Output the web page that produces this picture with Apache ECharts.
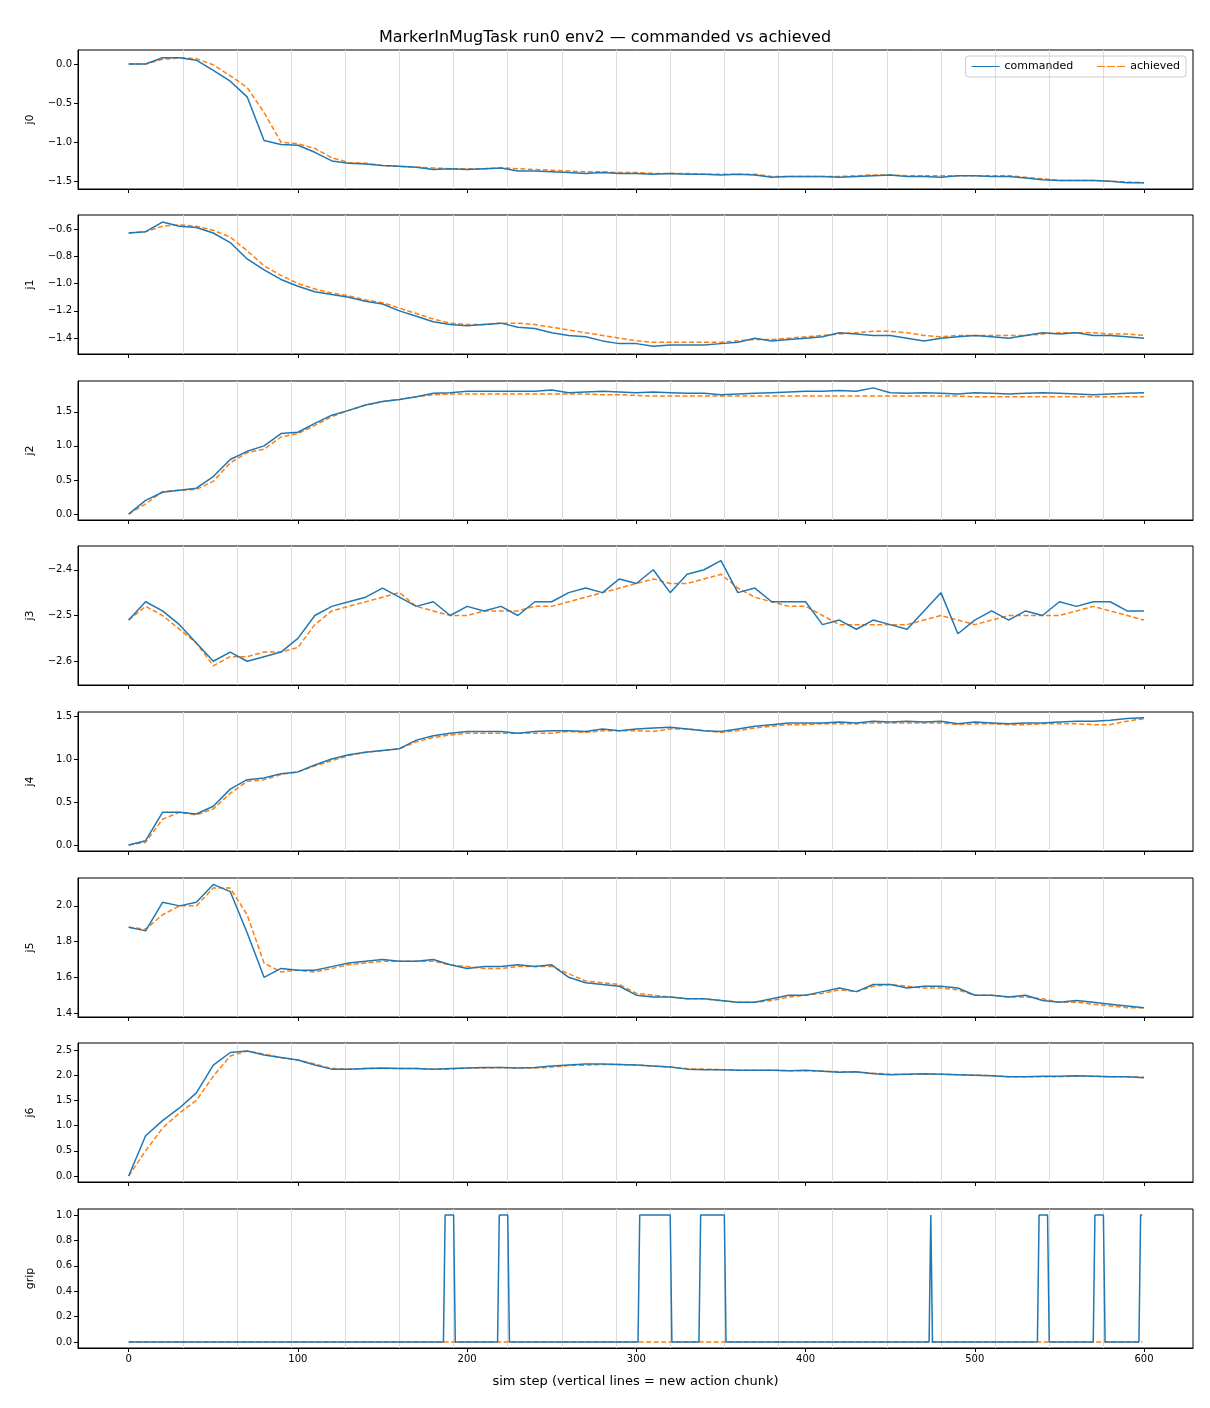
<!DOCTYPE html>
<html>
<head>
<meta charset="utf-8">
<script src="https://cdn.jsdelivr.net/npm/echarts@6/dist/echarts.min.js"></script>
<style>html,body{margin:0;padding:0;background:#fff}#main{width:1210px;height:1408px}</style>
</head>
<body>
<div id="main"></div>
<script>
var steps = [0,10,20,30,40,50,60,70,80,90,100,110,120,130,140,150,160,170,180,190,200,210,220,230,240,250,260,270,280,290,300,310,320,330,340,350,360,370,380,390,400,410,420,430,440,450,460,470,480,490,500,510,520,530,540,550,560,570,580,590,600];
var chunkStarts = [32,64,96,128,160,192,224,256,288,320,352,384,416,448,480,512,544,576];
var jointNames = ['j0','j1','j2','j3','j4','j5','j6'];

var j0Cmd = [0,0,0.08,0.08,0.05,-0.08,-0.22,-0.42,-0.98,-1.03,-1.04,-1.13,-1.24,-1.27,-1.28,-1.3,-1.31,-1.32,-1.35,-1.34,-1.35,-1.34,-1.33,-1.37,-1.37,-1.38,-1.39,-1.4,-1.39,-1.4,-1.4,-1.41,-1.4,-1.41,-1.41,-1.42,-1.41,-1.42,-1.45,-1.44,-1.44,-1.44,-1.45,-1.44,-1.43,-1.42,-1.44,-1.44,-1.45,-1.43,-1.43,-1.44,-1.44,-1.46,-1.48,-1.49,-1.49,-1.49,-1.5,-1.52,-1.52];
var j0Ach = [0,0,0.06,0.08,0.07,-0.01,-0.15,-0.3,-0.62,-1.0,-1.02,-1.08,-1.2,-1.26,-1.27,-1.3,-1.31,-1.32,-1.33,-1.34,-1.34,-1.34,-1.33,-1.34,-1.35,-1.36,-1.37,-1.38,-1.38,-1.39,-1.39,-1.4,-1.4,-1.4,-1.41,-1.41,-1.41,-1.41,-1.44,-1.44,-1.44,-1.44,-1.44,-1.43,-1.42,-1.42,-1.43,-1.43,-1.43,-1.43,-1.43,-1.43,-1.43,-1.45,-1.47,-1.49,-1.49,-1.49,-1.5,-1.51,-1.52];
var j1Cmd = [-0.63,-0.62,-0.55,-0.58,-0.59,-0.63,-0.7,-0.82,-0.9,-0.97,-1.02,-1.06,-1.08,-1.1,-1.13,-1.15,-1.2,-1.24,-1.28,-1.3,-1.31,-1.3,-1.29,-1.32,-1.33,-1.36,-1.38,-1.39,-1.42,-1.44,-1.44,-1.46,-1.45,-1.45,-1.45,-1.44,-1.43,-1.4,-1.42,-1.41,-1.4,-1.39,-1.36,-1.37,-1.38,-1.38,-1.4,-1.42,-1.4,-1.39,-1.38,-1.39,-1.4,-1.38,-1.36,-1.37,-1.36,-1.38,-1.38,-1.39,-1.4];
var j1Ach = [-0.63,-0.62,-0.58,-0.57,-0.58,-0.61,-0.66,-0.76,-0.87,-0.94,-1.0,-1.04,-1.07,-1.09,-1.12,-1.14,-1.18,-1.22,-1.26,-1.29,-1.3,-1.3,-1.29,-1.29,-1.3,-1.32,-1.34,-1.36,-1.38,-1.4,-1.42,-1.43,-1.43,-1.43,-1.43,-1.43,-1.42,-1.41,-1.41,-1.4,-1.39,-1.38,-1.37,-1.36,-1.35,-1.35,-1.36,-1.38,-1.39,-1.38,-1.38,-1.38,-1.38,-1.38,-1.37,-1.36,-1.36,-1.36,-1.37,-1.37,-1.38];
var j2Cmd = [0,0.2,0.32,0.35,0.38,0.55,0.8,0.92,1.0,1.18,1.2,1.33,1.45,1.52,1.6,1.65,1.68,1.72,1.77,1.78,1.8,1.8,1.8,1.8,1.8,1.82,1.78,1.79,1.8,1.79,1.78,1.79,1.78,1.77,1.77,1.75,1.76,1.77,1.78,1.79,1.8,1.8,1.81,1.8,1.85,1.78,1.77,1.78,1.77,1.76,1.78,1.77,1.76,1.77,1.78,1.77,1.76,1.75,1.76,1.77,1.78];
var j2Ach = [0,0.15,0.33,0.35,0.36,0.48,0.75,0.9,0.95,1.13,1.18,1.3,1.43,1.52,1.6,1.65,1.68,1.72,1.75,1.76,1.76,1.76,1.76,1.76,1.76,1.76,1.76,1.76,1.75,1.75,1.74,1.73,1.73,1.73,1.73,1.73,1.73,1.73,1.73,1.73,1.73,1.73,1.73,1.73,1.73,1.73,1.73,1.73,1.73,1.73,1.72,1.72,1.72,1.72,1.72,1.72,1.72,1.72,1.72,1.72,1.72];
var j3Cmd = [-2.51,-2.47,-2.49,-2.52,-2.56,-2.6,-2.58,-2.6,-2.59,-2.58,-2.55,-2.5,-2.48,-2.47,-2.46,-2.44,-2.46,-2.48,-2.47,-2.5,-2.48,-2.49,-2.48,-2.5,-2.47,-2.47,-2.45,-2.44,-2.45,-2.42,-2.43,-2.4,-2.45,-2.41,-2.4,-2.38,-2.45,-2.44,-2.47,-2.47,-2.47,-2.52,-2.51,-2.53,-2.51,-2.52,-2.53,-2.49,-2.45,-2.54,-2.51,-2.49,-2.51,-2.49,-2.5,-2.47,-2.48,-2.47,-2.47,-2.49,-2.49];
var j3Ach = [-2.51,-2.48,-2.5,-2.53,-2.56,-2.61,-2.59,-2.59,-2.58,-2.58,-2.57,-2.52,-2.49,-2.48,-2.47,-2.46,-2.45,-2.48,-2.49,-2.5,-2.5,-2.49,-2.49,-2.49,-2.48,-2.48,-2.47,-2.46,-2.45,-2.44,-2.43,-2.42,-2.43,-2.43,-2.42,-2.41,-2.44,-2.46,-2.47,-2.48,-2.48,-2.5,-2.52,-2.52,-2.52,-2.52,-2.52,-2.51,-2.5,-2.51,-2.52,-2.51,-2.5,-2.5,-2.5,-2.5,-2.49,-2.48,-2.49,-2.5,-2.51];
var j4Cmd = [0,0.05,0.38,0.38,0.36,0.45,0.65,0.76,0.78,0.83,0.85,0.93,1.0,1.05,1.08,1.1,1.12,1.22,1.27,1.3,1.32,1.32,1.32,1.3,1.32,1.33,1.33,1.32,1.35,1.33,1.35,1.36,1.37,1.35,1.33,1.32,1.35,1.38,1.4,1.42,1.42,1.42,1.43,1.42,1.44,1.43,1.44,1.43,1.44,1.41,1.43,1.42,1.41,1.42,1.42,1.43,1.44,1.44,1.45,1.47,1.48];
var j4Ach = [0,0.03,0.3,0.38,0.35,0.42,0.6,0.74,0.76,0.82,0.85,0.92,0.98,1.04,1.08,1.1,1.12,1.2,1.25,1.28,1.3,1.3,1.3,1.3,1.3,1.3,1.32,1.31,1.33,1.33,1.33,1.32,1.35,1.35,1.33,1.31,1.33,1.36,1.38,1.4,1.4,1.41,1.41,1.41,1.42,1.42,1.42,1.42,1.42,1.4,1.41,1.41,1.4,1.4,1.41,1.41,1.41,1.4,1.4,1.44,1.47];
var j5Cmd = [1.88,1.86,2.02,2.0,2.02,2.12,2.08,1.85,1.6,1.65,1.64,1.64,1.66,1.68,1.69,1.7,1.69,1.69,1.7,1.67,1.65,1.66,1.66,1.67,1.66,1.67,1.6,1.57,1.56,1.55,1.5,1.49,1.49,1.48,1.48,1.47,1.46,1.46,1.48,1.5,1.5,1.52,1.54,1.52,1.56,1.56,1.54,1.55,1.55,1.54,1.5,1.5,1.49,1.5,1.47,1.46,1.47,1.46,1.45,1.44,1.43];
var j5Ach = [1.88,1.87,1.95,2.0,2.0,2.1,2.1,1.95,1.68,1.63,1.64,1.63,1.65,1.67,1.68,1.69,1.69,1.69,1.69,1.67,1.66,1.65,1.65,1.66,1.66,1.66,1.62,1.58,1.57,1.56,1.51,1.5,1.49,1.48,1.48,1.47,1.46,1.46,1.47,1.49,1.5,1.51,1.53,1.52,1.55,1.56,1.55,1.54,1.54,1.53,1.5,1.5,1.49,1.49,1.48,1.46,1.46,1.45,1.44,1.43,1.43];
var j6Cmd = [0,0.8,1.1,1.35,1.65,2.2,2.45,2.48,2.4,2.35,2.3,2.2,2.12,2.12,2.13,2.14,2.13,2.13,2.12,2.13,2.14,2.15,2.15,2.14,2.15,2.18,2.2,2.22,2.22,2.21,2.2,2.18,2.16,2.12,2.11,2.11,2.1,2.1,2.1,2.09,2.1,2.08,2.06,2.07,2.03,2.01,2.02,2.03,2.02,2.01,2.0,1.99,1.97,1.97,1.98,1.98,1.99,1.98,1.97,1.97,1.95];
var j6Ach = [0,0.5,0.95,1.25,1.5,1.98,2.38,2.48,2.42,2.35,2.3,2.22,2.13,2.12,2.13,2.13,2.13,2.13,2.12,2.12,2.14,2.14,2.15,2.14,2.14,2.16,2.19,2.2,2.21,2.21,2.2,2.18,2.16,2.13,2.12,2.11,2.1,2.1,2.1,2.09,2.09,2.08,2.07,2.06,2.04,2.02,2.02,2.02,2.02,2.01,2.0,1.99,1.97,1.97,1.97,1.97,1.98,1.98,1.97,1.97,1.96];

var gripSteps = [0,186,187,192,193,218,219,224,225,301,302,320,321,337,338,352,353,473,474,475,537,538,543,544,570,571,576,577,597,598,599];
var gripCmd   = [0,0,1,1,0,0,1,1,0,0,1,1,0,0,1,1,0,0,1,0,0,1,1,0,0,1,1,0,0,1,1];
var gripAchSteps = [0,599];
var gripAch = [0,0];

var cmdData = [j0Cmd,j1Cmd,j2Cmd,j3Cmd,j4Cmd,j5Cmd,j6Cmd];
var achData = [j0Ach,j1Ach,j2Ach,j3Ach,j4Ach,j5Ach,j6Ach];

// axis ranges and tick labels per panel (last one is grip)
var yMin = [-1.6,-1.516,-0.087,-2.652,-0.07,1.378,-0.118,-0.047];
var yMax = [0.18,-0.498,1.951,-2.348,1.547,2.156,2.638,1.047];
var yTicks = [
  [-1.5,-1.0,-0.5,0.0],
  [-1.4,-1.2,-1.0,-0.8,-0.6],
  [0.0,0.5,1.0,1.5],
  [-2.6,-2.5,-2.4],
  [0.0,0.5,1.0,1.5],
  [1.4,1.6,1.8,2.0],
  [0.0,0.5,1.0,1.5,2.0,2.5],
  [0.0,0.2,0.4,0.6,0.8,1.0]
];
var yDigits = [1,1,1,1,1,1,1,1];
var xTicks = [0,100,200,300,400,500,600];
var panelNames = jointNames.concat(['grip']);
var tops = [50,215,381,546,712,878,1043,1209];

function zip(xs, ys) {
  return xs.map(function(x, i) { return [x, ys[i]]; });
}

var grids = [], xAxes = [], yAxes = [], series = [];
for (var i = 0; i < 8; i++) {
  var last = i === 7;
  grids.push({ left: 78, right: 17, top: tops[i], height: 139, show: true, borderColor: '#000', borderWidth: 1 });
  xAxes.push({
    type: 'value', gridIndex: i, min: -29.95, max: 628.95,
    axisLine: { show: true, onZero: false, lineStyle: { color: '#000' } },
    axisTick: { show: true, customValues: xTicks, length: 4, lineStyle: { color: '#000' } },
    axisLabel: { show: last, customValues: xTicks, color: '#000', fontSize: 10, margin: 6, fontFamily: 'DejaVu Sans' },
    splitLine: { show: false },
    name: last ? 'sim step (vertical lines = new action chunk)' : '',
    nameLocation: 'middle', nameGap: 27,
    nameTextStyle: { color: '#000', fontSize: 13, fontFamily: 'DejaVu Sans' }
  });
  yAxes.push({
    type: 'value', gridIndex: i, min: yMin[i], max: yMax[i],
    axisLine: { show: true, onZero: false, lineStyle: { color: '#000' } },
    axisTick: { show: true, customValues: yTicks[i], length: 4, lineStyle: { color: '#000' } },
    axisLabel: { customValues: yTicks[i], color: '#000', fontSize: 10, margin: 6, fontFamily: 'DejaVu Sans',
      formatter: function(v) { return (v < 0 ? '\u2212' : '') + Math.abs(v).toFixed(1); } },
    splitLine: { show: false },
    name: panelNames[i], nameLocation: 'middle', nameGap: 42, nameRotate: 90,
    nameTextStyle: { color: '#000', fontSize: 11, fontFamily: 'DejaVu Sans' }
  });
  var cmd = last ? zip(gripSteps, gripCmd) : zip(steps, cmdData[i]);
  var ach = last ? zip(gripAchSteps, gripAch) : zip(steps, achData[i]);
  series.push({
    name: 'commanded', type: 'line', xAxisIndex: i, yAxisIndex: i, data: cmd,
    showSymbol: false, z: 3, color: '#1f77b4', lineStyle: { width: 1.5, color: '#1f77b4' },
    markLine: {
      silent: true, symbol: 'none', label: { show: false }, z: 1,
      lineStyle: { color: '#dcdcdc', type: 'solid', width: 1 },
      data: chunkStarts.map(function(s) { return { xAxis: s }; })
    }
  });
  series.push({
    name: 'achieved', type: 'line', xAxisIndex: i, yAxisIndex: i, data: ach,
    showSymbol: false, z: 2, color: '#ff7f0e', lineStyle: { width: 1.5, color: '#ff7f0e', type: [5, 2.5] }
  });
}

var chart = echarts.init(document.getElementById('main'), null, { renderer: 'canvas' });
chart.setOption({
  animation: false,
  backgroundColor: '#fff',
  title: { text: 'MarkerInMugTask run0 env2 \u2014 commanded vs achieved', left: 'center', top: 25,
    textStyle: { fontSize: 16, fontWeight: 'normal', color: '#000', fontFamily: 'DejaVu Sans' } },
  legend: {
    right: 24, top: 56, itemWidth: 28, itemHeight: 10, itemGap: 24, orient: 'horizontal',
    borderColor: '#ccc', borderWidth: 1, borderRadius: 3, padding: [5, 6],
    textStyle: { fontSize: 11, color: '#000', fontFamily: 'DejaVu Sans' },
    data: [{ name: 'commanded', icon: 'path://M0,5L28,5L28,6L0,6Z' },
           { name: 'achieved', icon: 'path://M0,5L8,5L8,6L0,6ZM10,5L18,5L18,6L10,6ZM20,5L28,5L28,6L20,6Z' }]
  },
  grid: grids, xAxis: xAxes, yAxis: yAxes, series: series
});
</script>
</body>
</html>
